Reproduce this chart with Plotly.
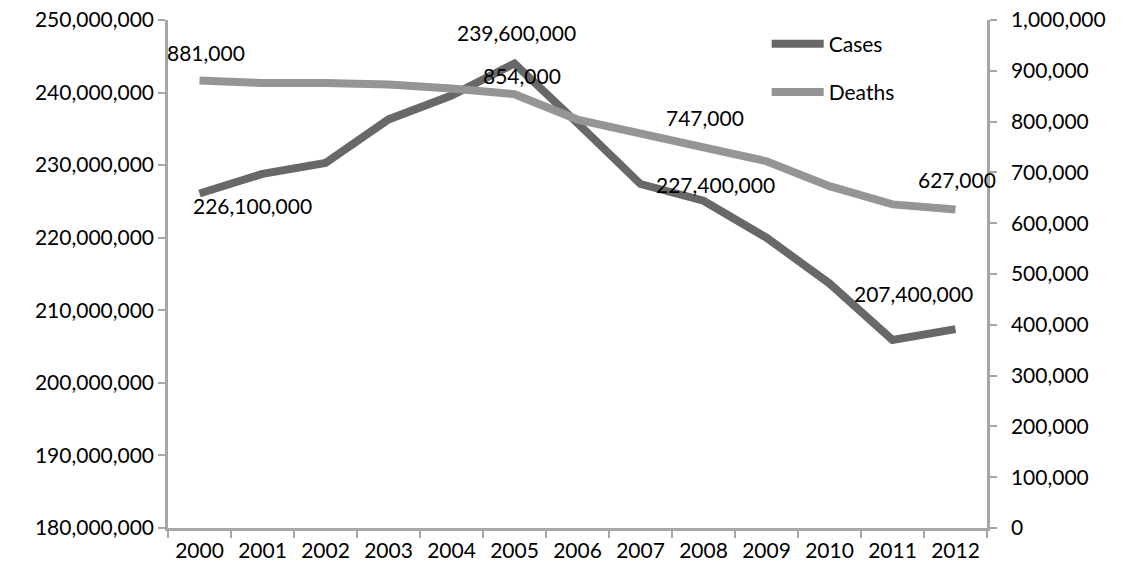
import plotly.graph_objects as go

# Malaria cases and deaths, 2000-2012
years = ["2000", "2001", "2002", "2003", "2004", "2005", "2006",
         "2007", "2008", "2009", "2010", "2011", "2012"]
cases = [226_100_000, 228_800_000, 230_300_000, 236_300_000, 239_600_000,
         244_000_000, 235_800_000, 227_400_000, 225_100_000, 220_000_000,
         213_700_000, 205_900_000, 207_400_000]
deaths = [881_000, 876_000, 876_000, 873_000, 865_000, 854_000, 804_000,
          777_000, 747_000, 722_000, 673_000, 637_000, 627_000]

# data labels: (year index, offset along category axis, label height)
case_labels = [(0, 0.84, 224_100_000), (4, 1.03, 248_000_000),
               (7, 1.19, 227_100_000), (12, -0.67, 212_000_000)]
death_labels = [(0, 0.10, 933_000), (5, 0.12, 886_000),
                (8, 0.03, 804_000), (12, 0.03, 682_000)]

CASES_COLOR = "#686868"
DEATHS_COLOR = "#959595"
AXIS_COLOR = "#a6a6a6"
FONT = "Lato"
FSIZE = 21

fig = go.Figure()
fig.add_trace(go.Scatter(x=years, y=cases, name="Cases", mode="lines",
                         line=dict(color=CASES_COLOR, width=8),
                         legendgroup="c", yaxis="y"))
fig.add_trace(go.Scatter(x=years, y=deaths, name="Deaths", mode="lines",
                         line=dict(color=DEATHS_COLOR, width=8),
                         legendgroup="d", yaxis="y2"))

label_font = dict(size=FSIZE, color="black", family=FONT)
annotations = []
for i, dx, ypos in case_labels:
    annotations.append(dict(x=i + dx, y=ypos, xref="x", yref="y", yshift=2,
                            text=f"{cases[i]:,}", showarrow=False,
                            font=label_font))
for i, dx, ypos in death_labels:
    annotations.append(dict(x=i + dx, y=ypos, xref="x", yref="y2", yshift=2,
                            text=f"{deaths[i]:,}", showarrow=False,
                            font=label_font))

axis_common = dict(showgrid=False, zeroline=False, showline=True,
                   linecolor=AXIS_COLOR, linewidth=2.5, ticks="outside",
                   ticklen=7, tickwidth=2, tickcolor=AXIS_COLOR,
                   automargin=False,
                   tickfont=dict(size=FSIZE, color="black", family=FONT))

fig.update_layout(
    width=1132, height=570,
    margin=dict(l=168, r=145, t=20, b=42, autoexpand=False),
    paper_bgcolor="white", plot_bgcolor="white",
    font=dict(family=FONT, size=FSIZE, color="black"),
    xaxis=dict(type="category", tickson="boundaries", range=[-0.5, 12.5],
               ticklabelstandoff=2, **axis_common),
    yaxis=dict(range=[180_000_000, 250_000_000], dtick=10_000_000,
               tickformat=",", ticklabelstandoff=0, **axis_common),
    yaxis2=dict(range=[0, 1_000_000], dtick=100_000, tickformat=",",
                overlaying="y", side="right", ticklabelstandoff=10,
                **axis_common),
    legend=dict(x=0.731, y=0.993, xanchor="left", yanchor="top",
                bgcolor="rgba(0,0,0,0)", traceorder="grouped",
                itemwidth=52, tracegroupgap=18,
                font=dict(size=FSIZE, family=FONT)),
    annotations=annotations,
)

fig.write_html("out.html")
